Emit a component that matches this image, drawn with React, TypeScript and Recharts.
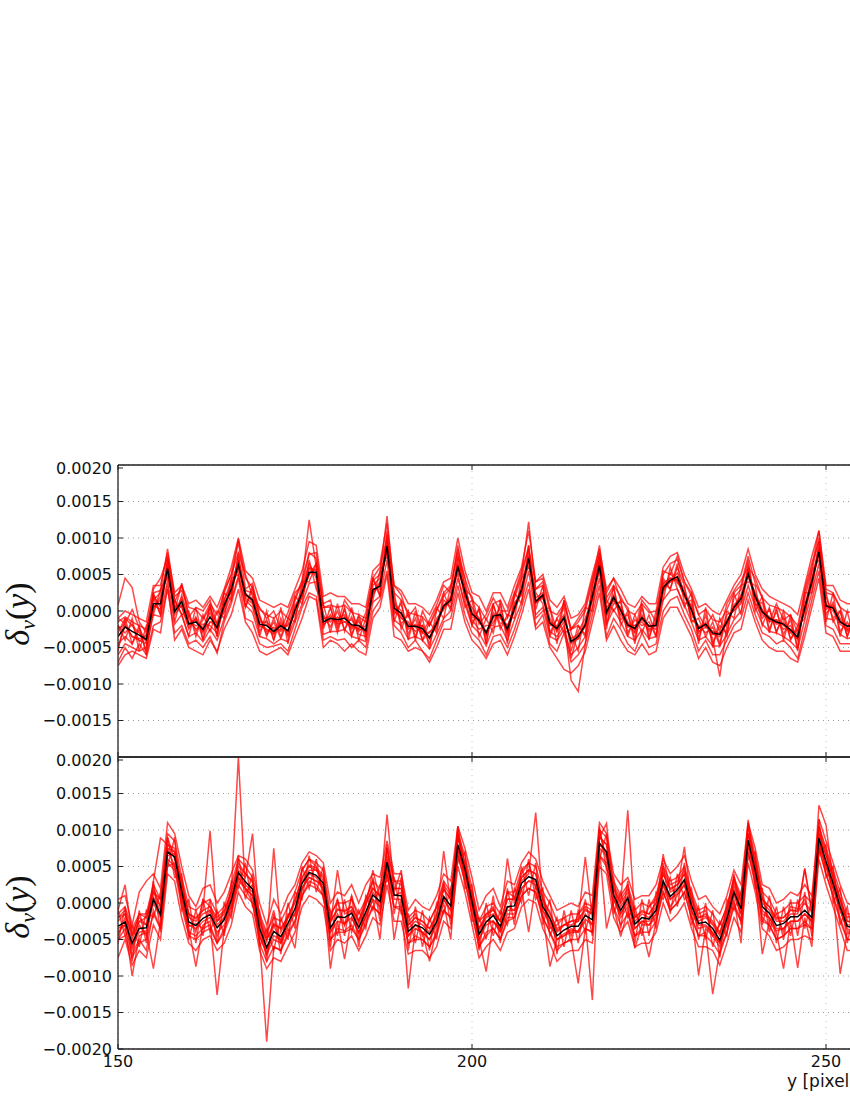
import React from "react";
import { LineChart, Line, XAxis, YAxis, CartesianGrid } from "recharts";

// x positions start at 150 (one sample per pixel row); values are in units of 1e-4
const X_START = 150;
const X_TICKS = [150, 200, 250];
const TOP_Y_TICKS = [-15, -10, -5, 0, 5, 10, 15, 20];
const BOTTOM_Y_TICKS = [-20, -15, -10, -5, 0, 5, 10, 15, 20];
const X_LABEL = "y [pixel]";

const TOP_MEAN = [
  -3.5, -2.2, -2.8, -3.3, -3.9, 1.0, 1.0, 5.8, -0.1, 1.3,
  -1.8, -1.5, -2.5, -0.8, -2.3, 0.8, 3.0, 6.3, 2.3, 1.5,
  -1.8, -2.0, -2.8, -2.0, -2.7, 0.1, 2.5, 5.3, 5.3, -1.5,
  -1.0, -1.2, -1.0, -1.9, -2.0, -2.7, 2.9, 3.4, 8.9, 0.4,
  -0.3, -2.1, -2.1, -2.4, -3.7, -1.7, 0.7, 1.5, 6.1, 2.6,
  -0.4, -1.3, -3.0, -0.7, -0.5, -2.5, 0.4, 2.9, 7.2, 1.3,
  2.2, -1.7, -2.4, -0.9, -4.2, -3.5, -1.9, 2.0, 6.2, -0.2,
  1.9, 0.1, -1.9, -2.4, -0.9, -2.1, -2.0, 3.2, 4.2, 4.7,
  2.3, 0.1, -2.4, -1.8, -3.0, -3.2, -1.5, 0.5, 1.7, 5.1,
  2.0, -0.1, -1.0, -1.5, -1.8, -2.6, -3.6, 0.4, 4.0, 8.1,
  0.7, 0.4, -1.5, -2.1, -2.0,
];

const TOP_R1 = [
  0.8, 4.5, 3.2, -1.5, -3.0, 2.2, 0.5, 7.0, 1.2, 3.5,
  -0.5, -2.8, -1.2, 0.5, -3.5, 1.5, 4.2, 9.5, 3.0, 3.8,
  -0.8, -3.2, -1.5, -3.8, -1.2, 1.4, 4.0, 12.5, 6.0, -2.5,
  0.5, -2.5, 0.2, -3.2, -0.8, -1.5, 4.5, 2.2, 10.5, 1.8,
  -1.8, -0.5, -3.5, -1.0, -5.2, 0.2, 2.0, 3.2, 8.0, 1.5,
  -1.8, 0.2, -4.5, 0.8, -1.8, -1.0, 1.8, 4.5, 9.0, 0.2,
  3.5, -3.0, -1.0, 0.5, -5.5, -2.0, -3.2, 3.5, 8.0, 1.0,
  3.2, -1.2, -0.5, -3.8, 0.5, -3.5, -0.8, 4.5, 3.0, 6.5,
  1.0, 1.5, -3.8, -0.5, -4.5, -2.0, -3.0, 1.8, 3.0, 7.0,
  0.8, 1.2, -2.5, 0.0, -3.2, -1.2, -5.0, 1.8, 5.5, 10.0,
  2.0, -1.0, 0.0, -3.5, -0.8,
];
const TOP_R2 = [
  -6.0, -4.5, -5.0, -5.5, -5.0, -0.5, -0.8, 4.2, -1.8, -0.5,
  -3.5, -3.0, -4.2, -2.5, -4.0, -1.0, 1.5, 4.8, 0.8, -0.2,
  -3.5, -3.8, -4.5, -3.8, -4.2, -1.5, 1.0, 3.8, 4.0, -3.2,
  -2.8, -2.8, -2.5, -3.5, -3.8, -4.2, 1.2, 2.0, 7.0, -1.2,
  -2.0, -3.8, -3.5, -4.0, -5.2, -3.2, -1.0, 0.0, 4.5, 1.0,
  -2.0, -3.0, -4.8, -2.2, -2.0, -4.0, -1.2, 1.2, 5.5, -0.5,
  0.5, -3.5, -4.0, -2.5, -6.0, -5.0, -3.5, 0.5, 4.5, -1.8,
  0.2, -1.5, -3.5, -4.0, -2.5, -3.8, -3.5, 1.5, 2.8, 3.0,
  0.8, -1.5, -4.0, -3.5, -4.8, -4.8, -3.2, -1.2, 0.0, 3.5,
  0.5, -1.8, -2.8, -3.0, -3.5, -4.2, -5.2, -1.2, 2.5, 6.5,
  -1.0, -1.2, -3.2, -3.8, -3.5,
];
const TOP_R3 = [
  -1.5, -0.8, -1.5, -2.0, -2.5, 2.5, 2.8, 8.5, 2.0, 2.8,
  0.5, 0.2, -1.0, 1.0, -0.5, 2.5, 5.0, 9.8, 4.5, 3.2,
  0.2, -0.5, -1.0, 0.0, -1.0, 1.8, 4.2, 8.0, 7.2, 0.5,
  0.8, 0.5, 0.8, -0.2, -0.5, -1.0, 4.2, 5.0, 13.0, 2.5,
  1.5, -0.2, -0.5, -0.8, -2.0, 0.0, 2.5, 3.5, 8.5, 4.5,
  1.5, 0.5, -1.2, 1.0, 1.5, -0.8, 2.2, 5.0, 12.2, 3.0,
  4.0, 0.0, -0.5, 1.0, -2.5, -1.5, 0.0, 4.0, 9.0, 1.8,
  3.5, 2.0, 0.0, -0.5, 1.0, -0.2, 0.0, 5.0, 6.5, 7.0,
  4.0, 2.0, -0.5, 0.2, -1.2, -1.5, 0.2, 2.5, 3.5, 7.5,
  3.8, 1.8, 0.8, 0.5, 0.0, -0.8, -2.0, 2.5, 6.0, 11.0,
  2.5, 2.2, 0.5, -0.2, 0.0,
];
const TOP_R4 = [
  -4.5, -3.5, -4.5, -2.5, -5.5, 0.2, 2.0, 5.0, 0.8, 0.5,
  -2.5, -0.8, -3.8, -1.5, -1.5, -0.2, 2.2, 7.5, 1.5, 0.5,
  -2.8, -1.2, -4.0, -1.0, -3.5, -1.0, 3.2, 6.5, 4.5, -0.5,
  -2.2, 0.0, -2.5, -0.8, -3.2, -3.5, 3.5, 4.5, 9.5, -0.5,
  1.0, -3.2, -1.0, -4.0, -2.8, -2.5, 1.5, 0.5, 7.2, 3.5,
  -1.2, -2.5, -2.0, -2.0, 0.8, -3.5, 1.2, 2.2, 8.0, 2.5,
  1.0, -2.8, -3.5, -2.0, -6.5, -2.8, -1.0, 1.5, 5.5, -1.5,
  1.0, 1.2, -3.0, -1.2, -2.0, -1.5, -3.5, 2.5, 5.2, 3.8,
  3.2, -1.2, -2.0, -3.0, -2.2, -4.8, -0.5, 0.0, 1.0, 5.8,
  1.2, -1.0, 0.2, -2.8, -0.8, -3.8, -2.5, -0.2, 3.5, 8.8,
  -0.5, 1.2, -2.8, -1.5, -3.2,
];
const TOP_R5 = [
  -2.0, -3.0, -1.8, -4.2, -3.2, 1.8, -0.5, 6.5, -1.5, 2.2,
  -1.0, -2.5, -1.8, -2.0, -3.0, 1.5, 3.5, 7.0, 2.8, 2.5,
  -1.0, -2.8, -2.2, -2.8, -1.8, 0.8, 1.8, 5.8, 5.0, -2.0,
  -0.5, -1.8, -1.5, -1.2, -2.8, -2.0, 2.5, 4.0, 8.2, 0.0,
  -1.0, -1.5, -2.8, -2.0, -4.5, -1.0, 0.2, 2.0, 6.5, 2.0,
  0.5, -1.0, -3.5, -0.2, -1.0, -2.0, 0.0, 3.5, 7.5, 1.8,
  2.5, -1.0, -2.8, -1.5, -9.5, -11.0, -4.5, 2.2, 6.8, 0.5,
  1.5, 0.5, -1.5, -3.0, -0.5, -2.8, -1.5, 3.8, 4.5, 4.2,
  2.0, 0.8, -3.0, -1.5, -3.8, -9.0, -2.0, 0.8, 2.0, 4.8,
  2.5, 0.2, -1.5, -1.2, -2.5, -2.0, -4.0, 0.8, 4.5, 8.5,
  0.2, 0.8, -1.0, -2.8, -1.5,
];
const TOP_R6 = [
  -5.0, -2.0, -3.5, -4.0, -4.5, 1.5, 2.5, 6.0, 0.5, 0.8,
  -2.2, -1.0, -3.0, 0.5, -2.0, 1.2, 2.5, 7.0, 1.8, 1.0,
  -2.0, -2.5, -3.2, -1.5, -3.2, 0.5, 2.8, 6.0, 5.5, -1.0,
  -1.5, -0.8, -1.5, -2.2, -1.5, -3.0, 3.0, 3.0, 9.0, 1.0,
  0.0, -2.5, -1.8, -2.8, -3.0, -1.5, 0.5, 1.2, 6.0, 3.0,
  0.0, -1.5, -2.8, -1.5, -0.2, -2.2, 0.8, 3.0, 7.0, 1.0,
  2.0, -2.0, -2.0, -0.5, -4.5, -3.8, -1.5, 2.5, 6.5, 0.0,
  2.2, 0.0, -2.2, -2.0, -1.5, -2.5, -2.0, 3.5, 4.0, 5.2,
  2.5, 0.5, -2.8, -2.2, -3.2, -3.5, -1.2, 0.2, 2.2, 5.5,
  2.2, 0.0, -0.8, -1.8, -1.5, -3.0, -3.8, 0.5, 4.2, 8.5,
  1.0, 0.0, -1.8, -2.5, -2.2,
];
const TOP_R7 = [
  -3.0, -1.0, -2.0, -3.0, -4.0, 0.5, 1.5, 5.5, 0.0, 1.8,
  -1.5, -2.0, -2.2, -0.2, -2.5, 0.2, 3.8, 5.5, 2.0, 1.8,
  -1.5, -1.5, -2.5, -2.5, -2.0, -0.5, 2.0, 5.0, 6.5, -1.8,
  -1.2, -1.0, -0.5, -2.5, -1.2, -3.2, 2.2, 3.8, 8.5, 0.8,
  -0.5, -1.8, -2.2, -3.0, -3.5, -1.8, 0.8, 1.8, 6.5, 2.2,
  -0.8, -1.2, -3.2, -0.5, -0.8, -3.0, 0.2, 2.5, 6.5, 1.2,
  1.8, -1.5, -2.2, -1.2, -3.8, -3.2, -2.2, 1.5, 6.0, -0.8,
  1.5, -0.5, -2.0, -2.0, -1.2, -2.0, -2.5, 2.8, 4.0, 4.5,
  2.2, -0.5, -2.2, -2.0, -2.8, -3.0, -1.8, 0.5, 1.2, 4.8,
  1.8, -0.5, -1.2, -1.2, -2.0, -2.5, -3.2, 0.2, 4.0, 7.8,
  0.8, 0.5, -1.5, -2.0, -2.2,
];
const TOP_R8 = [
  -2.5, -1.8, -3.5, -3.8, -3.5, 0.8, 0.2, 6.2, -0.5, 0.8,
  -1.8, -1.2, -2.8, -1.5, -2.0, 0.5, 2.8, 6.0, 2.5, 1.2,
  -2.2, -1.8, -3.0, -1.8, -2.8, 0.2, 2.5, 5.0, 5.8, -1.0,
  -0.8, -1.5, -0.8, -2.0, -2.5, -2.5, 2.8, 3.5, 9.2, 0.2,
  -0.8, -2.2, -2.0, -2.0, -3.8, -2.0, 0.8, 1.5, 5.5, 2.8,
  -0.5, -1.0, -3.0, -1.0, -0.5, -2.8, 0.5, 2.8, 7.5, 1.5,
  2.0, -1.5, -2.5, -0.8, -4.0, -3.8, -2.0, 2.0, 5.8, -0.5,
  1.8, 0.2, -1.8, -2.5, -1.0, -2.2, -1.8, 3.0, 4.5, 4.2,
  2.0, 0.2, -2.2, -1.8, -3.2, -3.2, -1.5, 0.5, 1.5, 5.2,
  2.0, -0.2, -1.0, -1.5, -1.8, -2.8, -3.5, 0.5, 3.8, 8.0,
  0.5, 0.5, -1.5, -2.0, -2.0,
];
const TOP_R9 = [
  -1.0, -1.7, 0.2, -2.3, -4.4, 3.0, 4.5, 7.3, -0.1, 3.8,
  -0.8, 0.5, 0.0, 1.5, -1.8, 2.8, 5.0, 8.0, 5.0, 2.0,
  0.5, -1.0, 0.0, -2.5, -0.2, 2.5, 3.5, 7.8, 8.0, 1.0,
  1.5, -2.0, 1.5, 0.0, -2.5, -0.2, 4.5, 6.0, 10.0, 3.5,
  2.2, -0.8, 0.5, -3.0, -1.2, 0.8, 3.5, 2.5, 9.0, 3.0,
  2.0, -1.8, -0.5, 1.8, 0.0, 0.0, 2.5, 5.5, 8.5, 4.0,
  4.5, 0.5, -2.8, 1.5, -2.5, -1.0, 0.5, 4.5, 7.5, 2.5,
  4.5, 1.5, 0.5, -2.8, 1.5, 0.2, -1.5, 5.5, 5.0, 7.5,
  4.0, 2.5, -0.5, -2.2, -0.5, -2.8, 1.0, 2.8, 4.2, 6.0,
  4.5, 1.8, -1.5, 1.0, -1.2, -0.5, -3.0, 3.0, 6.5, 9.5,
  3.0, 2.5, 0.5, -2.5, 0.0,
];
const TOP_R10 = [
  -7.0, -5.0, -6.5, -4.5, -6.0, -2.0, -1.5, 3.0, -3.0, -2.0,
  -4.5, -4.0, -5.0, -3.5, -5.8, -1.5, 1.0, 4.5, -1.0, -1.5,
  -4.5, -5.0, -4.8, -4.5, -5.5, -2.5, 0.5, 2.5, 2.0, -4.0,
  -3.5, -4.0, -3.8, -5.0, -4.0, -5.0, 0.0, 1.5, 5.5, -2.0,
  -3.0, -5.0, -4.0, -5.5, -6.5, -4.0, -1.5, -1.0, 3.5, -0.5,
  -3.0, -4.0, -6.0, -3.5, -3.2, -5.0, -2.5, 0.5, 4.0, -2.0,
  -0.5, -4.5, -5.5, -3.0, -7.0, -6.0, -4.5, -0.5, 3.5, -3.5,
  -1.0, -2.5, -4.5, -5.5, -3.0, -5.0, -4.5, 0.0, 1.5, 2.0,
  -0.5, -2.5, -5.5, -4.0, -6.0, -6.0, -4.0, -2.0, -1.0, 2.5,
  -0.5, -3.0, -3.5, -4.5, -4.0, -5.0, -6.5, -2.5, 1.5, 5.5,
  -2.0, -2.5, -4.5, -4.5, -4.5,
];
const TOP_R11 = [
  -2.0, -4.0, -1.0, -5.5, -2.0, -0.5, 3.0, 4.5, 1.5, -0.5,
  0.0, -3.5, -0.5, -2.8, 0.0, -1.0, 4.5, 5.0, 0.5, 3.5,
  -3.5, 0.0, -4.0, 0.5, -4.5, 2.0, 1.0, 7.0, 3.0, 1.0,
  -3.0, 1.0, -2.8, 0.5, -4.0, -1.0, 1.5, 5.5, 7.5, 2.5,
  -2.5, 0.0, -4.0, 0.0, -2.0, 0.5, -1.0, 3.5, 5.0, 0.5,
  1.5, -3.5, -1.0, -3.0, 1.5, -4.5, 2.5, 1.0, 9.0, -1.0,
  0.0, 0.5, -4.5, 1.5, -3.0, -5.5, 0.5, 0.0, 8.0, -2.5,
  3.5, -2.0, 0.0, -4.5, 1.0, -4.0, 0.0, 1.5, 6.0, 3.0,
  0.5, 2.5, -4.5, 0.5, -5.0, -1.0, -3.5, 2.5, -0.5, 6.5,
  0.0, 2.0, -3.0, 0.5, -4.0, -0.5, -5.5, 2.5, 2.5, 9.5,
  -1.5, 2.5, -3.5, 0.0, -4.0,
];
const TOP_R12 = [
  -5.5, -1.0, -4.5, -2.0, -6.0, 2.5, -0.5, 7.5, 1.5, -0.5,
  -3.5, 0.5, -4.0, 1.0, -3.5, 2.5, 1.5, 8.0, 0.5, 3.0,
  -0.5, -3.5, -1.0, -3.5, -1.0, -1.5, 4.0, 4.0, 6.5, 0.5,
  0.5, -3.0, 0.5, -3.5, -0.5, -4.0, 4.5, 2.0, 11.0, -1.5,
  1.5, -4.0, 0.0, -4.0, -1.5, -3.0, 2.5, 0.0, 7.5, 4.5,
  -2.0, 0.5, -4.5, 1.0, -2.5, -0.5, -1.0, 4.5, 6.0, 3.0,
  3.5, -3.5, -1.0, -3.0, -2.5, -2.0, -3.5, 3.5, 7.0, 1.5,
  0.0, 1.5, -3.5, -0.5, -3.0, -0.5, -3.5, 4.0, 3.0, 6.0,
  3.5, -1.5, -1.0, -3.5, -1.5, -4.5, 0.0, -1.0, 3.5, 4.0,
  3.5, -2.0, 0.5, -3.0, 0.0, -4.0, -2.0, -1.0, 5.5, 7.0,
  2.5, -1.5, 0.0, -3.5, -0.5,
];
const TOP_R13 = [
  -1.0, 0.0, -0.5, -1.0, -1.5, 3.5, 3.5, 8.0, 2.5, 3.5,
  1.0, 1.5, 0.5, 2.0, 0.5, 3.0, 6.0, 10.0, 5.5, 4.5,
  1.5, 1.0, 0.5, 1.0, 0.5, 3.0, 5.5, 9.5, 9.0, 2.0,
  2.5, 2.0, 2.0, 1.0, 1.0, 0.5, 5.5, 6.5, 12.0, 3.5,
  2.8, 1.0, 1.0, 0.5, -0.5, 1.5, 4.0, 4.5, 10.0, 5.5,
  2.5, 2.0, 0.0, 2.5, 2.5, 0.5, 3.5, 6.0, 11.0, 4.0,
  5.0, 1.5, 0.5, 2.0, -1.0, -0.5, 1.0, 5.0, 8.5, 3.0,
  4.5, 3.0, 1.0, 0.5, 2.0, 1.0, 1.0, 6.0, 7.5, 8.0,
  5.0, 3.0, 0.5, 1.0, 0.0, -0.5, 1.5, 3.5, 5.0, 8.5,
  5.0, 3.0, 2.0, 1.5, 1.0, 0.5, -0.5, 3.5, 7.5, 11.0,
  3.5, 3.5, 1.5, 1.0, 1.0,
];
const TOP_R14 = [
  -7.5, -6.0, -5.5, -6.0, -6.5, -2.5, -3.0, 3.5, -4.0, -2.5,
  -5.0, -5.5, -6.0, -4.0, -5.5, -2.5, -0.5, 3.0, -1.5, -3.0,
  -5.5, -6.0, -5.5, -5.0, -6.0, -3.5, -1.0, 2.0, 1.5, -5.0,
  -4.0, -4.5, -5.5, -4.5, -5.5, -6.0, -1.0, 0.5, 5.0, -3.5,
  -4.0, -5.5, -5.0, -5.5, -7.0, -5.0, -2.5, -2.5, 2.5, -1.5,
  -4.0, -5.0, -6.5, -4.5, -4.0, -6.0, -3.5, -0.5, 3.0, -2.5,
  -1.5, -5.0, -6.5, -8.0, -8.5, -7.5, -5.5, -1.5, 2.5, -4.0,
  -2.0, -4.0, -5.5, -6.0, -4.5, -6.0, -5.5, -1.0, 0.5, 0.5,
  -1.5, -3.5, -6.5, -5.0, -7.0, -7.5, -5.0, -3.0, -2.5, 1.5,
  -1.5, -4.0, -5.0, -5.5, -5.5, -6.5, -7.0, -3.5, 0.5, 4.5,
  -3.0, -3.5, -5.5, -5.5, -5.5,
];

const BOTTOM_MEAN = [
  -3.2, -2.6, -5.5, -3.5, -3.4, 0.5, -1.6, 7.0, 6.3, 1.6,
  -2.6, -3.1, -2.1, -1.6, -3.4, -2.3, 0.4, 4.2, 2.9, 1.9,
  -3.5, -6.1, -3.9, -4.6, -2.8, -0.8, 2.7, 4.2, 3.8, 2.7,
  -3.4, -1.9, -2.0, -1.4, -3.4, -1.2, 1.1, 0.2, 5.6, 1.1,
  1.0, -3.9, -3.0, -3.4, -4.3, -2.6, 0.9, -0.4, 8.0, 4.7,
  0.2, -4.3, -2.6, -1.7, -3.2, -0.5, -0.4, 2.7, 3.6, 3.2,
  -0.5, -2.1, -4.5, -3.7, -3.2, -3.2, -1.7, -2.3, 8.2, 7.0,
  1.1, -1.0, 0.7, -2.9, -2.0, -2.2, -1.0, 3.0, 0.9, 1.8,
  3.2, -0.3, -2.8, -2.6, -3.5, -5.1, -2.1, 1.5, -0.8, 8.6,
  4.5, -0.5, -1.4, -3.1, -2.8, -1.9, -1.9, -1.0, -2.0, 8.9,
  5.7, 2.7, -0.5, -3.2, -3.4,
];

const BOTTOM_R1 = [
  -1.0, 2.5, -4.5, -1.5, -2.0, 1.5, 0.5, 9.0, 6.0, 3.0,
  -1.5, -4.0, 0.5, -0.5, -2.0, -1.0, 1.5, 20.0, 1.5, 2.5,
  -2.0, -4.5, -1.0, -5.5, -1.5, -1.8, 4.5, 6.0, 5.0, 1.5,
  -2.0, 0.5, -3.0, 1.0, -2.5, 0.5, 3.0, -1.0, 7.5, 3.0,
  2.5, -2.5, -1.5, -4.5, -2.5, -0.5, 2.5, 1.0, 9.5, 3.5,
  1.5, -2.5, -1.5, -0.5, -4.0, 1.5, 0.8, 4.0, 5.5, 2.0,
  1.0, -3.5, -3.0, -2.0, -4.5, -1.5, -0.5, -1.0, 10.0, 6.0,
  2.5, 0.5, 2.0, -1.5, -3.0, -0.5, 0.5, 4.5, 2.5, 3.0,
  4.5, 1.0, -1.5, -1.0, -4.5, -3.0, -0.5, 3.0, 0.5, 9.5,
  6.0, 1.0, -2.5, -1.5, -4.0, -0.5, -0.8, 0.5, -3.0, 10.5,
  7.0, 4.0, 0.5, -2.0, -1.5,
];
const BOTTOM_R2 = [
  -5.0, -3.5, -7.0, -5.0, -6.5, -1.0, -3.5, 5.0, 5.5, 0.0,
  -4.0, -4.5, -3.5, -3.0, -5.5, -3.5, -1.0, 3.0, 2.0, 0.0,
  -5.0, -19.0, -6.0, -6.5, -4.0, -2.5, 1.0, 3.0, 2.5, 1.0,
  -5.0, -3.5, -3.8, -3.0, -5.0, -2.5, -0.5, -1.5, 4.0, -0.5,
  -0.5, -5.5, -4.5, -5.0, -6.0, -4.0, -1.0, -2.0, 6.5, 3.0,
  -1.5, -6.0, -4.0, -3.5, -5.0, -2.0, -2.0, 1.0, 2.0, 1.5,
  -2.0, -4.0, -6.0, -5.5, -5.0, -11.0, -3.5, -4.0, 6.5, 5.0,
  -0.5, -4.6, -1.0, -4.5, -3.5, -7.4, -2.5, 1.5, -1.0, 0.0,
  1.5, -2.0, -4.5, -4.0, -12.5, -6.5, -4.0, 0.0, -2.5, 7.0,
  2.5, -2.0, -3.0, -5.0, -4.5, -3.5, -3.5, -2.5, -3.5, 7.5,
  4.0, 1.0, -2.5, -5.0, -5.0,
];
const BOTTOM_R3 = [
  -2.0, -1.5, -4.0, -2.0, -3.0, 3.0, 8.9, 8.0, 7.0, 2.5,
  -1.5, -2.0, -1.0, 9.9, -2.5, -1.5, 1.5, 5.5, 4.0, 3.0,
  -2.5, -5.0, -3.0, -3.5, -2.0, 0.5, 3.5, 5.0, 4.5, 3.5,
  -2.5, -1.0, -1.0, -0.5, -2.5, 0.0, 2.0, 1.0, 12.1, 2.0,
  2.0, -3.0, -2.0, -2.5, -3.5, -1.5, 2.0, 0.5, 9.0, 5.5,
  1.0, -3.5, -1.5, -1.0, -2.5, 0.5, 0.5, 3.5, 4.5, 4.0,
  0.5, -1.5, -3.5, -3.0, -2.5, -2.5, -1.0, -1.5, 9.0, 8.0,
  2.0, 0.0, 12.7, -2.0, -1.0, -1.5, 0.0, 4.0, 2.0, 2.5,
  4.0, 0.5, -2.0, -1.5, -2.5, -4.0, -1.0, 3.6, 0.0, 9.5,
  5.5, 0.5, -0.5, -2.0, -2.0, -1.0, -1.0, 4.7, -1.0, 9.5,
  6.5, 3.5, 0.5, -2.5, -2.5,
];
const BOTTOM_R4 = [
  -4.0, -3.0, -10.0, -4.5, -4.0, -9.0, -2.5, 6.0, 5.0, 0.5,
  -3.5, -8.7, -3.0, -2.5, -12.6, -3.5, -0.5, 3.5, 2.0, 1.0,
  -4.5, -7.0, -5.0, -5.5, -3.5, -6.2, 2.0, 3.5, 3.0, 2.0,
  -9.0, -2.5, -7.7, -2.0, -4.0, -2.0, 0.5, -5.0, 5.0, -5.0,
  0.5, -11.7, -3.5, -4.0, -8.0, -3.5, 0.0, -5.0, 7.0, 4.0,
  -0.5, -5.0, -9.4, -2.5, -4.0, -1.5, -1.5, 2.0, -4.0, 2.5,
  -1.5, -8.7, -5.0, -4.5, -4.0, -4.0, -2.5, -13.3, 7.5, -3.5,
  0.5, -2.0, -0.5, -6.2, -3.0, -3.0, -2.0, 2.5, -0.5, 1.0,
  2.5, -1.0, -9.9, -3.5, -4.5, -6.0, -3.0, 0.5, -5.5, 8.0,
  3.5, -7.0, -2.5, -4.0, -9.0, -2.5, -8.9, -2.0, -6.0, 8.0,
  5.0, 2.0, -9.7, -4.0, -4.5,
];
const BOTTOM_R5 = [
  -2.5, -1.5, -5.0, -2.5, -3.0, 1.5, -0.5, 7.5, 7.0, 2.0,
  -2.0, -2.5, -1.5, -1.0, -3.0, -2.0, 1.0, 4.5, 3.5, 9.5,
  -3.0, -5.5, 7.5, -4.0, -2.0, 0.0, 3.0, 4.5, 4.5, 3.0,
  -3.0, 4.5, -1.5, -1.0, -3.0, -0.5, 4.5, 0.5, 6.0, 1.5,
  4.5, -3.5, -2.5, -3.0, -4.0, -2.0, 7.1, 0.0, 10.5, 5.0,
  0.5, -4.0, -2.0, -1.5, -2.5, 6.1, 0.0, 3.0, 4.0, 12.4,
  0.0, -2.0, -4.0, -3.0, -3.0, -2.5, 6.3, -2.0, 9.0, 10.9,
  1.5, -0.5, 1.0, -2.5, -1.5, -2.0, -0.5, 6.7, 1.5, 2.0,
  7.7, 0.0, -2.5, -2.0, -3.0, -4.5, -1.5, 2.0, -0.5, 11.4,
  5.0, 0.0, -1.0, -2.5, -2.5, -1.5, -1.5, 4.7, -1.5, 13.4,
  10.7, 3.0, 0.0, -3.0, -3.0,
];
const BOTTOM_R6 = [
  -3.5, -3.0, -6.0, -4.0, -3.8, 0.0, -2.0, 6.5, 6.8, 1.0,
  -3.0, -3.5, -2.5, -2.0, -4.0, -3.0, 0.0, 4.0, 2.5, 1.5,
  -4.0, -6.5, -4.5, -5.0, -3.2, -1.5, 2.0, 4.0, 3.5, 2.0,
  -4.0, -2.5, -2.8, -2.0, -4.0, -1.8, 0.5, -0.5, 5.0, 0.5,
  0.5, -4.5, -3.5, -4.0, -5.0, -3.0, 0.5, -1.0, 7.5, 4.0,
  -0.5, -5.0, -3.0, -2.5, -3.8, -1.0, -1.0, 2.0, 3.0, 2.5,
  -1.0, -2.5, -5.0, -4.2, -3.8, -3.8, -2.2, -3.0, 7.5, 6.5,
  0.5, -1.5, 0.0, -3.5, -2.5, -3.0, -1.5, 2.5, 0.5, 1.2,
  2.5, -1.0, -3.5, -3.2, -4.2, -5.5, -2.8, 1.0, -1.5, 8.0,
  4.0, -1.0, -2.0, -3.8, -3.5, -2.5, -2.5, -1.5, -2.5, 8.2,
  5.0, 2.0, -1.0, -3.8, -4.0,
];
const BOTTOM_R7 = [
  -2.0, -1.0, -4.5, -2.5, -2.0, 2.0, -0.5, 8.0, 7.5, 2.5,
  -1.5, -2.2, -1.0, -0.5, -2.5, -1.2, 1.5, 5.0, 4.0, 2.8,
  -2.5, -5.0, -2.8, -3.5, -1.8, 0.2, 3.5, 5.2, 4.8, 3.8,
  -2.5, -0.8, -1.2, -0.5, -2.5, -0.2, 2.0, 1.0, 6.5, 2.0,
  2.0, -3.0, -2.0, -2.5, -3.5, -1.8, 1.8, 0.5, 9.0, 5.5,
  1.0, -3.5, -1.8, -0.8, -2.5, 0.5, 0.5, 3.5, 4.5, 4.0,
  0.5, -1.2, -3.8, -3.0, -2.5, -2.2, -0.8, -1.5, 9.0, 8.0,
  2.0, 0.0, 1.5, -2.0, -1.2, -1.5, 0.0, 4.0, 1.8, 2.5,
  4.0, 0.5, -2.0, -1.8, -2.8, -4.2, -1.2, 2.5, 0.0, 9.5,
  5.5, 0.5, -0.5, -2.2, -2.0, -1.0, -1.2, 0.0, -1.2, 9.8,
  6.5, 3.5, 0.5, -2.5, -2.8,
];
const BOTTOM_R8 = [
  -4.5, -2.0, -6.5, -3.0, -4.5, 0.8, -1.0, 7.5, 5.0, 1.0,
  -3.2, -2.8, -3.5, -1.0, -4.5, -2.0, -0.5, 3.5, 2.0, 1.0,
  -4.5, -7.0, -3.0, -5.5, -2.0, -1.5, 2.0, 3.5, 3.0, 2.5,
  -4.0, -1.5, -3.0, -1.0, -4.5, -1.5, 1.5, 0.0, 5.0, 1.0,
  1.5, -4.5, -3.0, -4.0, -5.0, -2.5, 0.5, -1.0, 7.5, 4.5,
  0.5, -5.0, -2.5, -2.5, -3.5, -0.5, -1.0, 2.0, 3.0, 3.0,
  -1.0, -3.0, -5.0, -4.5, -3.5, -4.0, -1.5, -3.0, 8.0, 7.0,
  1.0, -1.5, 0.5, -3.5, -2.5, -2.5, -1.5, 3.0, 0.5, 1.5,
  3.0, -1.0, -3.0, -3.0, -4.0, -5.5, -2.5, 1.5, -1.5, 8.5,
  4.0, -1.5, -2.0, -3.5, -3.5, -2.5, -2.5, -1.5, -2.5, 8.5,
  5.5, 2.5, -1.0, -3.5, -4.0,
];
const BOTTOM_R9 = [
  0.5, 1.0, -3.0, 1.5, 3.0, 4.0, 2.0, 11.0, 9.5, 5.0,
  1.0, -0.5, 2.0, 2.5, 0.0, 1.5, 4.0, 6.5, 6.0, 4.5,
  0.0, -3.0, 0.5, -1.5, 1.0, 2.5, 5.5, 7.0, 6.5, 5.5,
  0.0, 1.5, 1.0, 2.5, 0.0, 2.5, 4.0, 3.5, 8.5, 4.0,
  4.0, -1.0, 0.5, -0.5, -1.0, 1.0, 4.0, 3.0, 10.5, 7.5,
  3.5, -1.0, 1.0, 2.0, -0.5, 3.0, 2.5, 5.5, 7.0, 6.0,
  3.0, 1.0, -1.0, -0.5, 0.0, -0.5, 1.5, 1.0, 11.0, 9.5,
  4.0, 2.5, 3.5, 0.5, 1.0, 1.0, 2.5, 6.0, 4.0, 5.0,
  6.5, 3.0, 0.5, 1.0, -0.5, -1.5, 1.0, 4.5, 2.5, 11.0,
  7.5, 2.5, 2.0, 0.0, 0.5, 1.5, 1.0, 2.5, 1.0, 11.5,
  8.5, 5.5, 2.5, 0.0, -0.5,
];
const BOTTOM_R10 = [
  -7.5, -5.0, -8.5, -6.5, -7.5, -3.0, -5.0, 4.0, 3.0, -2.0,
  -5.5, -6.5, -5.0, -4.5, -6.5, -5.5, -3.0, 1.5, -0.5, -1.5,
  -6.5, -9.0, -7.5, -8.0, -6.0, -4.0, -0.5, 1.0, 0.5, -0.5,
  -6.5, -5.0, -5.5, -4.5, -6.5, -4.5, -2.0, -3.0, 2.5, -2.5,
  -2.5, -7.0, -6.5, -6.5, -7.5, -6.0, -2.5, -3.5, 5.0, 1.5,
  -3.0, -7.5, -6.0, -5.0, -6.5, -4.0, -3.5, -0.5, 0.5, 0.0,
  -3.5, -5.5, -8.0, -7.0, -6.5, -6.5, -5.0, -5.5, 5.0, 4.0,
  -2.0, -4.0, -2.5, -6.0, -5.5, -5.5, -4.0, 0.0, -2.5, -1.5,
  0.0, -3.5, -6.0, -6.0, -6.5, -8.5, -5.5, -2.0, -4.0, 5.5,
  1.5, -3.5, -4.5, -6.5, -6.0, -5.0, -5.0, -4.5, -5.0, 6.0,
  2.5, -0.5, -3.5, -6.5, -6.5,
];
const BOTTOM_R11 = [
  -1.0, -4.5, -3.0, -6.0, -1.0, -2.0, 1.5, 5.0, 9.0, -1.0,
  0.5, -5.5, 0.5, -4.0, -1.0, -4.5, 3.0, 2.0, 5.5, -0.5,
  -1.0, -8.0, -1.5, -7.0, 0.0, -3.5, 5.0, 2.0, 6.0, 0.5,
  -1.0, -4.5, 0.5, -4.0, -1.0, -3.5, 3.5, -2.5, 8.0, -1.5,
  3.5, -6.5, -0.5, -6.0, -2.0, -5.0, 3.0, -3.0, 10.5, 2.0,
  2.5, -6.5, 0.0, -4.5, -1.0, -3.0, 2.0, 0.0, 6.0, 0.5,
  2.0, -4.5, -2.0, -6.0, -1.0, -5.5, 0.5, -4.5, 10.5, 4.5,
  3.5, -3.5, 3.0, -5.5, 0.5, -4.5, 1.5, 0.5, 3.5, -0.5,
  5.5, -3.0, -0.5, -5.0, -1.0, -7.5, 0.5, -1.0, 1.5, 6.0,
  7.0, -3.0, 1.0, -5.5, -0.5, -4.5, 0.5, -3.5, 0.5, 6.5,
  8.0, 0.0, 2.0, -5.5, -1.0,
];
const BOTTOM_R12 = [
  -5.5, -0.5, -8.0, -1.0, -5.5, 3.0, -4.0, 9.0, 3.5, 4.0,
  -5.0, -1.0, -4.5, 0.5, -5.5, 0.0, -2.0, 6.5, 0.5, 4.0,
  -6.0, -3.5, -6.5, -2.0, -5.0, 1.5, 0.5, 6.5, 1.5, 5.0,
  -6.0, 0.5, -4.5, 1.0, -6.0, 1.0, -1.0, 2.5, 3.0, 3.5,
  -1.5, -1.5, -5.5, -1.0, -6.5, 0.0, -1.5, 2.0, 5.5, 7.0,
  -2.5, -2.0, -5.0, 1.0, -5.5, 2.0, -3.0, 5.0, 1.0, 5.5,
  -3.0, 0.5, -7.0, -1.0, -5.5, -1.0, -4.0, 0.0, 6.0, 9.5,
  -1.5, 1.5, -2.0, -0.5, -4.5, 0.5, -3.5, 5.5, -1.5, 4.0,
  0.5, 2.0, -5.0, 0.0, -6.0, -2.5, -4.5, 4.0, -3.0, 11.0,
  2.0, 2.0, -4.0, -0.5, -5.0, 0.5, -4.5, 1.5, -4.5, 11.5,
  3.5, 5.0, -3.0, -0.5, -6.0,
];
const BOTTOM_R13 = [
  -1.5, -0.5, -3.5, -1.5, -1.5, 2.5, 0.5, 9.5, 8.5, 3.5,
  -0.5, -1.0, 0.0, 0.5, -1.5, -0.5, 2.5, 6.0, 5.0, 3.5,
  -1.5, -4.0, -2.0, -2.5, -0.5, 1.5, 4.5, 6.0, 5.5, 4.5,
  -1.5, 0.0, 0.0, 0.5, -1.5, 0.5, 3.0, 2.0, 7.5, 3.0,
  3.0, -2.0, -1.0, -1.5, -2.5, -0.5, 3.0, 1.5, 9.5, 6.5,
  2.0, -2.5, -0.5, 0.0, -1.5, 1.5, 1.5, 4.5, 5.5, 5.0,
  1.5, 0.0, -2.5, -2.0, -1.5, -1.5, 0.0, -0.5, 10.0, 9.0,
  3.0, 1.0, 2.5, -1.0, 0.0, -0.5, 1.0, 5.0, 3.0, 3.5,
  5.0, 1.5, -1.0, -0.5, -1.5, -3.0, -0.5, 3.5, 1.0, 10.5,
  6.5, 1.5, 0.5, -1.5, -1.0, 0.0, 0.0, 1.0, 0.0, 10.5,
  7.5, 4.5, 1.5, -1.5, -1.5,
];
const BOTTOM_R14 = [
  -5.0, -4.5, -7.5, -5.5, -5.0, -1.5, -3.5, 5.5, 4.5, -0.5,
  -4.5, -5.0, -4.0, -3.5, -5.5, -4.0, -1.5, 2.5, 1.0, 0.0,
  -5.5, -8.0, -6.0, -6.5, -4.5, -2.5, 1.0, 2.5, 2.0, 1.0,
  -5.0, -4.0, -4.0, -3.5, -5.0, -3.0, -0.5, -1.5, 4.0, -0.5,
  -1.0, -5.5, -5.0, -5.0, -6.0, -4.5, -1.0, -2.0, 6.5, 3.0,
  -1.5, -6.0, -4.5, -3.5, -5.0, -2.5, -2.0, 1.0, 2.0, 1.5,
  -2.0, -4.0, -6.5, -5.5, -5.0, -5.0, -3.5, -4.0, 6.5, 5.5,
  -0.5, -3.0, -1.5, -4.5, -4.0, -4.0, -2.5, 1.5, -1.0, 0.0,
  1.5, -2.0, -4.5, -4.5, -5.5, -7.0, -4.0, -0.5, -2.5, 7.0,
  3.0, -2.5, -3.0, -5.0, -4.5, -3.5, -3.5, -3.0, -3.5, 7.5,
  4.0, 1.0, -2.0, -5.0, -5.0,
];

const TOP_RED = [
  TOP_R1, TOP_R2, TOP_R3, TOP_R4, TOP_R5, TOP_R6, TOP_R7,
  TOP_R8, TOP_R9, TOP_R10, TOP_R11, TOP_R12, TOP_R13, TOP_R14,
];
const BOTTOM_RED = [
  BOTTOM_R1, BOTTOM_R2, BOTTOM_R3, BOTTOM_R4, BOTTOM_R5, BOTTOM_R6, BOTTOM_R7,
  BOTTOM_R8, BOTTOM_R9, BOTTOM_R10, BOTTOM_R11, BOTTOM_R12, BOTTOM_R13, BOTTOM_R14,
];

function buildRows(mean: number[], reds: number[][]) {
  return mean.map((m, i) => {
    const row: Record<string, number> = { x: X_START + i, mean: m };
    reds.forEach((r, k) => {
      row["r" + k] = r[i];
    });
    return row;
  });
}

const TOP_ROWS = buildRows(TOP_MEAN, TOP_RED);
const BOTTOM_ROWS = buildRows(BOTTOM_MEAN, BOTTOM_RED);

const FONT = '"DejaVu Sans", sans-serif';
const INK = "#111";
const FRAME = "#222";
const Y_MARGIN = 6;
const X_MARGIN = 7;
const CHART_W = 1536;
const Y_AXIS_W = 110;

function fmtY(v: number) {
  const s = (Math.abs(v) / 10000).toFixed(4);
  return v < 0 ? "\u2212" + s : s;
}

const YTick = (p: any) => {
  const ax = p.x + Y_MARGIN;
  return (
    <g>
      <line x1={ax} x2={ax + 5} y1={p.y} y2={p.y} stroke={FRAME} strokeWidth={1} />
      <text x={p.x} y={p.y} dy="0.36em" textAnchor="end" fontSize={16} fontFamily={FONT} fill={INK}>
        {fmtY(p.payload.value)}
      </text>
    </g>
  );
};

const makeXTickBottom = (showLabel: boolean) => (p: any) => {
  const m = showLabel ? X_MARGIN : 0;
  const ay = p.y - m;
  return (
    <g>
      <line x1={p.x} x2={p.x} y1={ay} y2={ay - 5} stroke={FRAME} strokeWidth={1} />
      {showLabel ? (
        <text x={p.x} y={p.y} dy="0.71em" textAnchor="middle" fontSize={16} fontFamily={FONT} fill={INK}>
          {p.payload.value}
        </text>
      ) : null}
    </g>
  );
};

const XTickTop = (p: any) => (
  <g>
    <line x1={p.x} x2={p.x} y1={p.y} y2={p.y + 5} stroke={FRAME} strokeWidth={1} />
  </g>
);

function Panel(props: { rows: any[]; nRed: number; yTicks: number[]; showX: boolean; top: number; height: number }) {
  const { rows, nRed, yTicks, showX, top, height } = props;
  const keys = Array.from({ length: nRed }, (_, k) => "r" + k);
  return (
    <div style={{ position: "absolute", left: 8, top }}>
      <LineChart
        width={CHART_W}
        height={height}
        data={rows}
        margin={{ top: 5, right: 10, bottom: showX ? 0 : 5, left: 0 }}
      >
        <CartesianGrid xAxisId="b" stroke="#9a9a9a" strokeDasharray="1 4" vertical={false} />
        <CartesianGrid xAxisId="b" stroke="#c4c4c4" strokeDasharray="1 5" horizontal={false} />
        <XAxis
          xAxisId="b"
          dataKey="x"
          type="number"
          domain={[150, 350]}
          ticks={X_TICKS}
          allowDataOverflow
          height={showX ? 45 : 1}
          tickSize={0}
          tickMargin={showX ? X_MARGIN : 0}
          tickLine={false}
          tick={makeXTickBottom(showX)}
          axisLine={{ stroke: FRAME, strokeWidth: 1.3 }}
        />
        <XAxis
          xAxisId="t"
          orientation="top"
          dataKey="x"
          type="number"
          domain={[150, 350]}
          ticks={X_TICKS}
          allowDataOverflow
          height={1}
          tickSize={0}
          tickMargin={0}
          tickLine={false}
          tick={XTickTop}
          axisLine={{ stroke: FRAME, strokeWidth: 1.3 }}
        />
        <YAxis
          type="number"
          domain={[-20, 20]}
          ticks={yTicks}
          allowDataOverflow
          width={Y_AXIS_W}
          tickSize={0}
          tickMargin={Y_MARGIN}
          tickLine={false}
          tick={YTick}
          axisLine={{ stroke: FRAME, strokeWidth: 1.3 }}
        />
        {keys.map((key) => (
          <Line
            key={key}
            xAxisId="b"
            type="linear"
            dataKey={key}
            stroke="#ff0000"
            strokeOpacity={0.72}
            strokeWidth={1.5}
            dot={false}
            activeDot={false}
            isAnimationActive={false}
          />
        ))}
        <Line
          xAxisId="b"
          type="linear"
          dataKey="mean"
          stroke="#000000"
          strokeWidth={1.5}
          dot={false}
          activeDot={false}
          isAnimationActive={false}
        />
      </LineChart>
    </div>
  );
}

const YLabel = ({ cy }: { cy: number }) => (
  <div
    style={{
      position: "absolute",
      left: 23,
      top: cy,
      transform: "translate(-50%, -50%) rotate(-90deg)",
      fontFamily: '"Liberation Serif", "DejaVu Serif", serif',
      fontSize: 34,
      lineHeight: "30px",
      whiteSpace: "nowrap",
      color: INK,
    }}
  >
    <i>δ</i>
    <sub style={{ fontSize: 22, fontStyle: "italic", verticalAlign: "-6px" }}>v</sub>
    <span>(</span>
    <i>y</i>
    <span>)</span>
  </div>
);

export default function App() {
  return (
    <div
      style={{
        position: "fixed",
        left: 0,
        top: 0,
        width: 850,
        height: 1100,
        overflow: "hidden",
        background: "#fff",
      }}
    >
      <Panel rows={TOP_ROWS} nRed={TOP_RED.length} yTicks={TOP_Y_TICKS} showX={false} top={459} height={304} />
      <Panel rows={BOTTOM_ROWS} nRed={BOTTOM_RED.length} yTicks={BOTTOM_Y_TICKS} showX={true} top={751} height={343} />
      <YLabel cy={614} />
      <YLabel cy={907} />
      <div
        style={{
          position: "absolute",
          left: 787,
          top: 1073,
          fontFamily: FONT,
          fontSize: 17,
          lineHeight: "17px",
          whiteSpace: "nowrap",
          color: INK,
        }}
      >
        {X_LABEL}
      </div>
    </div>
  );
}
